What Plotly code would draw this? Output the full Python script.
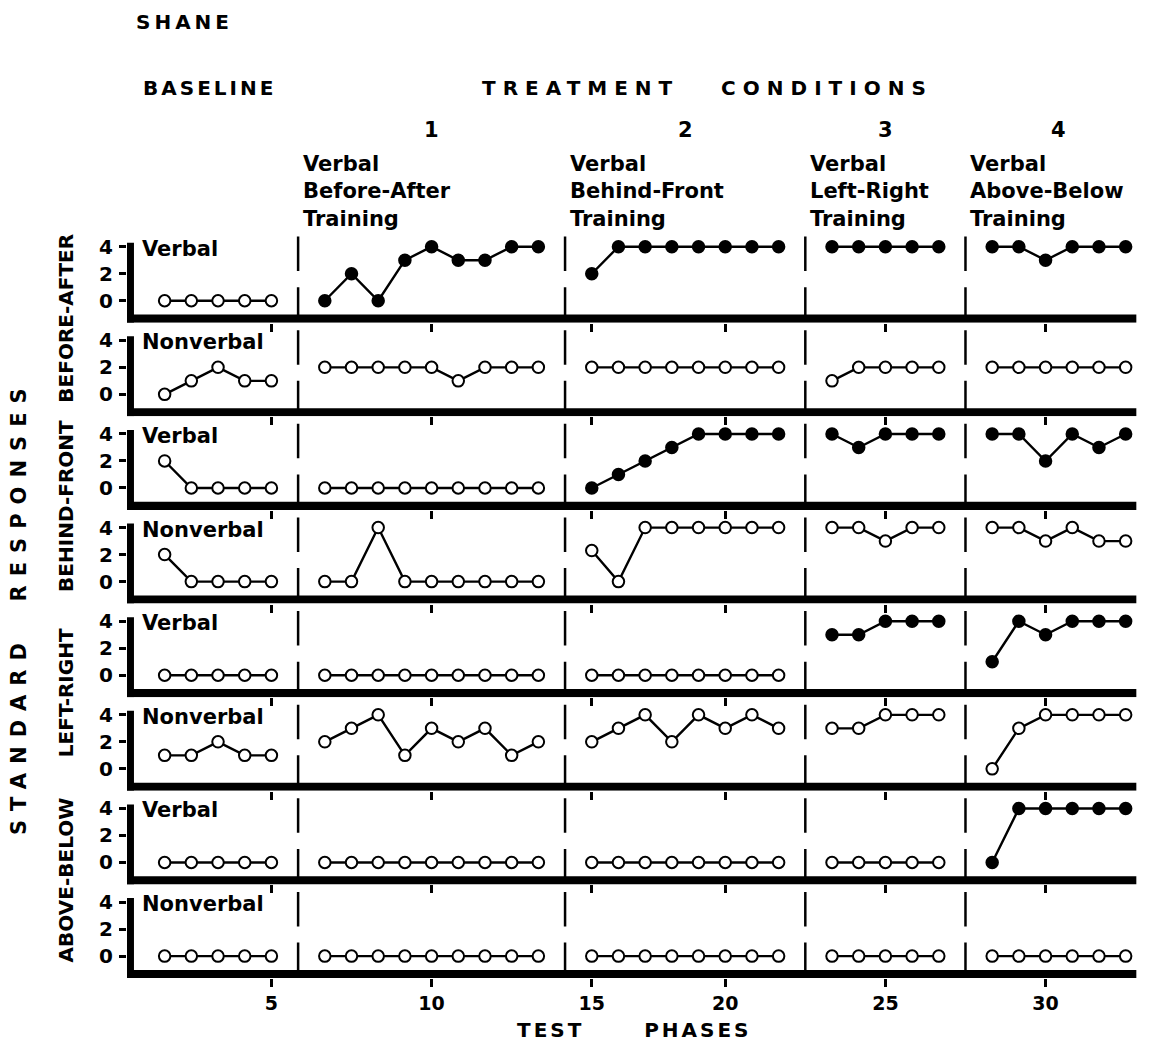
import plotly.graph_objects as go
from plotly.subplots import make_subplots

# ---------------- data ----------------
PHASE_LENGTHS = [5, 9, 8, 5, 6]          # baseline, treatment 1..4 (test phases per condition)
CONDITION_NUMBERS = ["1", "2", "3", "4"]
CONDITION_TITLES = [
    ["Verbal", "Before-After", "Training"],
    ["Verbal", "Behind-Front", "Training"],
    ["Verbal", "Left-Right", "Training"],
    ["Verbal", "Above-Below", "Training"],
]
STANDARDS = ["BEFORE-AFTER", "BEHIND-FRONT", "LEFT-RIGHT", "ABOVE-BELOW"]
RESPONSE_TYPES = ["Verbal", "Nonverbal"]
XTICK_PHASES = [5, 10, 15, 20, 25, 30]
YTICKS = [0, 2, 4]

ba_verbal = [0, 0, 0, 0, 0, 0, 2, 0, 3, 4, 3, 3, 4, 4, 2, 4, 4, 4, 4, 4, 4, 4, 4, 4, 4, 4, 4, 4, 4, 3, 4, 4, 4]
ba_verbal_filled = [False, True, True, True, True]
ba_nonverbal = [0, 1, 2, 1, 1, 2, 2, 2, 2, 2, 1, 2, 2, 2, 2, 2, 2, 2, 2, 2, 2, 2, 1, 2, 2, 2, 2, 2, 2, 2, 2, 2, 2]
ba_nonverbal_filled = [False, False, False, False, False]
bf_verbal = [2, 0, 0, 0, 0, 0, 0, 0, 0, 0, 0, 0, 0, 0, 0, 1, 2, 3, 4, 4, 4, 4, 4, 3, 4, 4, 4, 4, 4, 2, 4, 3, 4]
bf_verbal_filled = [False, False, True, True, True]
bf_nonverbal = [2, 0, 0, 0, 0, 0, 0, 4, 0, 0, 0, 0, 0, 0, 2.3, 0, 4, 4, 4, 4, 4, 4, 4, 4, 3, 4, 4, 4, 4, 3, 4, 3, 3]
bf_nonverbal_filled = [False, False, False, False, False]
lr_verbal = [0, 0, 0, 0, 0, 0, 0, 0, 0, 0, 0, 0, 0, 0, 0, 0, 0, 0, 0, 0, 0, 0, 3, 3, 4, 4, 4, 1, 4, 3, 4, 4, 4]
lr_verbal_filled = [False, False, False, True, True]
lr_nonverbal = [1, 1, 2, 1, 1, 2, 3, 4, 1, 3, 2, 3, 1, 2, 2, 3, 4, 2, 4, 3, 4, 3, 3, 3, 4, 4, 4, 0, 3, 4, 4, 4, 4]
lr_nonverbal_filled = [False, False, False, False, False]
ab_verbal = [0, 0, 0, 0, 0, 0, 0, 0, 0, 0, 0, 0, 0, 0, 0, 0, 0, 0, 0, 0, 0, 0, 0, 0, 0, 0, 0, 0, 4, 4, 4, 4, 4]
ab_verbal_filled = [False, False, False, False, True]
ab_nonverbal = [0] * 33
ab_nonverbal_filled = [False, False, False, False, False]

PANELS = [
    (ba_verbal, ba_verbal_filled), (ba_nonverbal, ba_nonverbal_filled),
    (bf_verbal, bf_verbal_filled), (bf_nonverbal, bf_nonverbal_filled),
    (lr_verbal, lr_verbal_filled), (lr_nonverbal, lr_nonverbal_filled),
    (ab_verbal, ab_verbal_filled), (ab_nonverbal, ab_nonverbal_filled),
]

# ---------------- helpers ----------------
# each condition boundary inserts one empty slot on the phase axis
def condition_of(phase):
    total = 0
    for c, n in enumerate(PHASE_LENGTHS):
        total += n
        if phase <= total:
            return c
    return len(PHASE_LENGTHS) - 1

def pos(phase):
    return phase + condition_of(phase)

starts = []
s = 1
for n in PHASE_LENGTHS:
    starts.append(s)
    s += n
ends = [st + n - 1 for st, n in zip(starts, PHASE_LENGTHS)]
dividers = [(pos(ends[i]) + pos(starts[i + 1])) / 2 for i in range(len(PHASE_LENGTHS) - 1)]
cond_centers = [(pos(starts[i]) + pos(ends[i])) / 2 for i in range(1, len(PHASE_LENGTHS))]

FONT = "DejaVu Sans"
OFF = 8                     # page body margin
W, H = 1150 - 2 * OFF, 1049 - 2 * OFF
PLOT_L, PLOT_R, PLOT_T, PLOT_B = 127, 1139, 229, 978     # page pixel coords of plot area
ML, MT = PLOT_L - OFF, PLOT_T - OFF
MR, MB = W - (PLOT_R - OFF), H - (PLOT_B - OFF)
PW, PH = PLOT_R - PLOT_L, PLOT_B - PLOT_T
XR = [-0.41, 37.5]
YR = [-1.62, 5.31]

def xp(px):
    return (px - PLOT_L) / PW

def yp(py):
    return (PLOT_B - py) / PH

NP = len(PANELS)
fig = make_subplots(rows=NP, cols=1, vertical_spacing=0)

for k, (vals, filled) in enumerate(PANELS):
    row = k + 1
    for c in range(len(PHASE_LENGTHS)):
        phases = list(range(starts[c], ends[c] + 1))
        fig.add_trace(go.Scatter(
            x=[pos(p) for p in phases],
            y=[vals[p - 1] for p in phases],
            mode="lines+markers",
            line=dict(color="black", width=2.4),
            marker=dict(symbol="circle", size=11.5,
                        color="black" if filled[c] else "white",
                        line=dict(color="black", width=2)),
            cliponaxis=False, showlegend=False, hoverinfo="skip",
        ), row=row, col=1)

    xa = "x" if k == 0 else f"x{k + 1}"
    ya = "y" if k == 0 else f"y{k + 1}"
    # thick horizontal axis bar
    fig.add_shape(type="rect", xref=xa, yref=ya, x0=XR[0], x1=37.4, y0=YR[0], y1=-1.02,
                  fillcolor="black", line=dict(width=0))
    # thick vertical axis
    fig.add_shape(type="line", xref=xa, yref=ya, x0=-0.28, x1=-0.28, y0=YR[0], y1=4.3,
                  line=dict(color="black", width=7))
    # dashed condition dividers
    for d in dividers:
        for y0, y1 in [(2.2, 4.75), (-1.4, 1.0)]:
            fig.add_shape(type="line", xref=xa, yref=ya, x0=d, x1=d, y0=y0, y1=y1,
                          line=dict(color="black", width=2.5))
    # response type label
    fig.add_annotation(xref=xa, yref=ya, x=0.08, y=3.85, text=RESPONSE_TYPES[k % 2],
                       showarrow=False, xanchor="left", yanchor="middle",
                       font=dict(family=FONT, size=21, color="black", weight="bold"))

fig.update_xaxes(range=XR, showgrid=False, zeroline=False, showline=False, automargin=False,
                 tickvals=[pos(p) for p in XTICK_PHASES], ticktext=[str(p) for p in XTICK_PHASES],
                 ticks="outside", ticklen=8, tickwidth=3, tickcolor="black",
                 showticklabels=False,
                 tickfont=dict(family=FONT, size=19, color="black", weight="bold"))
fig.update_xaxes(showticklabels=True, row=NP, col=1)
fig.update_yaxes(range=YR, showgrid=False, zeroline=False, showline=False, automargin=False,
                 tickvals=YTICKS, ticktext=[str(v) for v in YTICKS],
                 ticks="outside", ticklen=7, tickwidth=3, tickcolor="black",
                 ticklabelstandoff=2,
                 tickfont=dict(family=FONT, size=20, color="black", weight="bold"))

def ann(text, x, y, size=20, xanchor="center", yanchor="middle", angle=0, xref="paper", align="center"):
    fig.add_annotation(xref=xref, yref="paper", x=x, y=y, text=text, showarrow=False,
                       xanchor=xanchor, yanchor=yanchor, textangle=angle, align=align,
                       font=dict(family=FONT, size=size, color="black", weight="bold"))

ann('<span style="letter-spacing:4px">SHANE</span>', xp(134), yp(22), xanchor="left")
ann('<span style="letter-spacing:3px">BASELINE</span>', xp(141), yp(88), xanchor="left")
ann('<span style="letter-spacing:7px">TREATMENT&nbsp;&nbsp;&nbsp;CONDITIONS</span>', xp(707), yp(88))
for c, num in enumerate(CONDITION_NUMBERS):
    ann(num, cond_centers[c], yp(130), size=21, xref="x")
for c, lines in enumerate(CONDITION_TITLES):
    ann("<br>".join(lines), dividers[c] + 0.1, yp(191), size=21, xanchor="left",
        xref="x", align="left")

pair_h = 2 * PH / NP
for i, name in enumerate(STANDARDS):
    cy = PLOT_T + pair_h * (i + 0.5) - 4
    ann(name, xp(66), yp(cy), size=20, angle=-90)

ann('<span style="letter-spacing:9px">STANDARD&nbsp;&nbsp;RESPONSES</span>', xp(19), yp(607), size=21, angle=-90)
ann('<span style="letter-spacing:3px">TEST&nbsp;&nbsp;&nbsp;&nbsp;&nbsp;&nbsp;PHASES</span>', xp(634), yp(1030))

fig.update_layout(width=W, height=H, margin=dict(l=ML, r=MR, t=MT, b=MB, autoexpand=False),
                  paper_bgcolor="white", plot_bgcolor="white")

fig.write_html("out.html")
